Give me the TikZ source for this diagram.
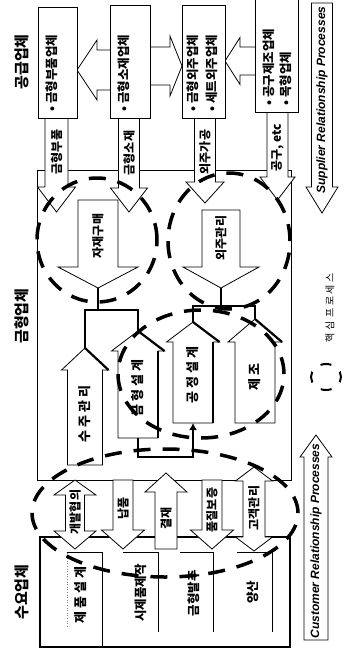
\documentclass[tikz,border=0pt]{standalone}
\usepackage{fontspec}
\setmainfont{Liberation Sans}
\newfontfamily\kr{Noto Sans CJK KR}
\usetikzlibrary{arrows.meta}
% vertical block arrow: cx, ytail, ybase, ytip, body half width, head half width
\newcommand{\VArr}[6]{\path[blk] ({#1-#5},{#2}) -- ({#1-#5},{#3}) -- ({#1-#6},{#3}) -- ({#1},{#4}) -- ({#1+#6},{#3}) -- ({#1+#5},{#3}) -- ({#1+#5},{#2}) -- cycle;}
% vertical double arrow: cx, ytip1, ybase1, ybase2, ytip2, body half, head half
\newcommand{\VDArr}[7]{\path[blk] ({#1},{#2}) -- ({#1+#7},{#3}) -- ({#1+#6},{#3}) -- ({#1+#6},{#4}) -- ({#1+#7},{#4}) -- ({#1},{#5}) -- ({#1-#7},{#4}) -- ({#1-#6},{#4}) -- ({#1-#6},{#3}) -- ({#1-#7},{#3}) -- cycle;}
% horizontal block arrow: cy, xtail, xbase, xtip, body half, head half
\newcommand{\HArr}[6]{\path[blk] ({#2},{#1-#5}) -- ({#3},{#1-#5}) -- ({#3},{#1-#6}) -- ({#4},{#1}) -- ({#3},{#1+#6}) -- ({#3},{#1+#5}) -- ({#2},{#1+#5}) -- cycle;}
\begin{document}
\begin{tikzpicture}[x=1pt,y=-1pt,
  blk/.style={draw=black,line width=0.8pt,fill=white,line join=miter},
  frame/.style={draw=black,line width=0.9pt},
  sbox/.style={draw=black,line width=0.9pt,fill=white,inner sep=0pt,outer sep=0pt},
  conn/.style={line width=2.6pt,line join=miter},
  shade/.style={line width=2.2pt},
  core/.style={line width=3.5pt,dash pattern=on 17pt off 12pt},
  lbl/.style={rotate=90,inner sep=0pt,font=\kr\bfseries\fontsize{15}{15}\selectfont},
  btxt/.style={rotate=90,inner sep=0pt,anchor=west,font=\kr\bfseries\fontsize{12.5}{13}\selectfont},
  atxt/.style={rotate=90,inner sep=0pt,font=\kr\bfseries\fontsize{12}{12}\selectfont},
  utxt/.style={rotate=90,inner sep=0pt,font=\kr\bfseries\fontsize{13}{13}\selectfont\addfontfeatures{LetterSpace=22}},
  rtxt/.style={rotate=90,inner sep=0pt,font=\bfseries\itshape\fontsize{12}{12}\selectfont},
  legt/.style={rotate=90,inner sep=0pt,font=\kr\fontsize{10}{10}\selectfont\addfontfeatures{LetterSpace=22}},
]
\fill[white] (0,0) rectangle (343,650);
\useasboundingbox (0,0) rectangle (343,650);

% side labels
\node[lbl] (lsup) at (22,62) {공급업체};
\node[lbl] (lmold) at (22,316) {금형업체};
\node[lbl] (lcus) at (22,592) {수요업체};

% main frames
\draw[frame] (37,170) rectangle (291,480);
\draw[frame,line width=1.2pt] (40,537) rectangle (290,647);
% customer columns
\draw[line width=0.9pt] (67,552) -- (102,552) -- (102,647);
\draw[line width=0.9pt] (123,552) -- (158,552) -- (158,632);
\draw[line width=0.9pt] (180,552) -- (213,552) -- (213,632);
\draw[line width=0.9pt] (237,552) -- (272,552) -- (272,632);
\draw[gray,dotted,line width=0.6pt] (67,553) -- (67,627);

% supplier -> mold arrows
\VArr{56.5}{117}{187}{212}{11.5}{19}
\VArr{129}{117}{188}{212}{10.5}{18.5}
\VArr{205}{117}{182}{203}{10.5}{19}
\VArr{277.5}{111}{177}{200}{10.5}{17.5}

% arrows between supplier boxes
\HArr{70}{111}{97}{77}{20}{30}
\HArr{66}{150}{170}{182}{19}{30}
\HArr{61}{256}{240}{225}{14}{23.5}

% supplier boxes
\node[sbox,minimum width=39pt,minimum height=111pt] (s1) at (57.5,62.5) {};
\node[sbox,minimum width=40pt,minimum height=113pt] (s2) at (130,61.5) {};
\node[sbox,minimum width=43pt,minimum height=113pt] (s3) at (203.5,61.5) {};
\node[sbox,minimum width=43pt,minimum height=113pt] (s4) at (276.5,55.5) {};
\node[btxt] (ts1) at (52,112) {• 금형부품업체};
\node[btxt] (ts2) at (124,112) {• 금형소재업체};
\node[btxt] (ts3a) at (193,112) {• 금형외주업체};
\node[btxt] (ts3b) at (212,112) {• 세트외주업체};
\node[btxt] (ts4a) at (269,106) {• 공구제조업체};
\node[btxt] (ts4b) at (286,106) {• 목형업체};

\node[atxt] (ta1) at (56.5,152) {금형부품};
\node[atxt] (ta2) at (129,153) {금형소재};
\node[atxt] (ta3) at (205,152) {외주가공};
\node[atxt] (ta4) at (277.5,148) {공구, etc};

% relationship process arrows
\VArr{322}{3}{187}{213}{10.5}{16}
\node[rtxt] (tsrp) at (322,100) {Supplier Relationship Processes};
\VArr{316}{640}{457}{435}{12}{16}
\node[rtxt] (tcrp) at (316,541) {Customer Relationship Processes};

% internal down arrows
\VArr{98}{200}{267}{288}{20}{40}
\VArr{221}{210}{267}{288}{19}{38}
\node[atxt] (tjj) at (98,236) {자재구매};
\node[atxt] (toj) at (221,238) {외주관리};

% internal up arrows
\VArr{85}{465}{370}{348}{17.5}{23.5}
\VArr{138}{438}{351}{331}{20}{26.5}
\VArr{193}{423}{342}{322}{20}{26.5}
\VArr{255}{423}{342}{319}{20}{27}
\draw[shade] (85,348) -- (108.5,370);
\draw[shade] (138,331) -- (164.5,351);
\draw[shade] (158,351) -- (158,438);
\draw[shade] (193,322) -- (219.5,342);
\draw[shade] (213,342) -- (213,423);
\draw[shade] (255,319) -- (282,342);
\node[utxt] (tsu) at (85,414) {수주관리};
\node[utxt] (tgs) at (138,388) {금형설계};
\node[utxt] (tgj) at (193,375) {공정설계};
\node[utxt] (tjo) at (255,377) {제조};

% connectors
\coordinate (jaT) at (98,288);
\coordinate (jaJ) at (98,310);
\coordinate (jaL) at (85,310);
\coordinate (jaR) at (138,310);
\coordinate (suT) at (85,348);
\coordinate (gsT) at (138,331);
\draw[conn] (jaT) -- (jaJ);
\draw[conn] (suT) -- (jaL) -- (jaR) -- (gsT);
\coordinate (oeT) at (221,288);
\coordinate (oeJ) at (221,306);
\coordinate (oeL) at (193,306);
\coordinate (oeR) at (255,306);
\coordinate (gjT) at (193,322);
\coordinate (jjT) at (255,319);
\draw[conn] (oeT) -- (oeJ);
\draw[conn] (gjT) -- (oeL) -- (oeR) -- (jjT);
\coordinate (gsB) at (138,438);
\coordinate (lk) at (138,457);
\coordinate (gjB) at (193,423);
\draw[conn,-{Latex[length=7pt,width=8pt]}] (gsB) -- (lk) -| (gjB);

% customer <-> mold arrows
\VDArr{75}{480}{495}{531}{549}{9.5}{21}
\VArr{123}{480}{530}{549}{10}{21.5}
\VArr{166}{549}{492}{473}{11}{21}
\VArr{212}{480}{530}{549}{10}{21.5}
\VDArr{254}{467}{481}{537}{551}{11}{18.5}
\node[atxt] (tc1) at (75,512) {개발협의};
\node[atxt] (tc2) at (123,508) {납품};
\node[atxt] (tc3) at (166,518) {결재};
\node[atxt] (tc4) at (212,510) {품질보증};
\node[atxt] (tc5) at (254,508) {고객관리};

% customer columns text
\node[utxt] (tq1) at (81,595) {제품설계};
\node[atxt,font=\kr\bfseries\fontsize{12.5}{13}\selectfont] (tq2) at (141,593) {시제품제작};
\node[atxt,font=\kr\bfseries\fontsize{12.5}{13}\selectfont] (tq3) at (194,593) {금형발주};
\node[atxt,font=\kr\bfseries\fontsize{12.5}{13}\selectfont] (tq4) at (253,592) {양산};

% core process ellipses
\draw[core] (97,240) ellipse [x radius=60pt, y radius=62pt];
\draw[core] (229,241) ellipse [x radius=61pt, y radius=68pt];
\draw[core] (201,374) ellipse [x radius=83pt, y radius=64pt];
\draw[core] (165,513) ellipse [x radius=133pt, y radius=64pt];

% legend
\draw[line width=2pt,dash pattern=on 11pt off 11pt,dash phase=5.5pt] (326,377) ellipse [x radius=15pt, y radius=13pt];
\node[legt] (tleg) at (330,308) {핵심 프로세스};
\end{tikzpicture}
\end{document}
